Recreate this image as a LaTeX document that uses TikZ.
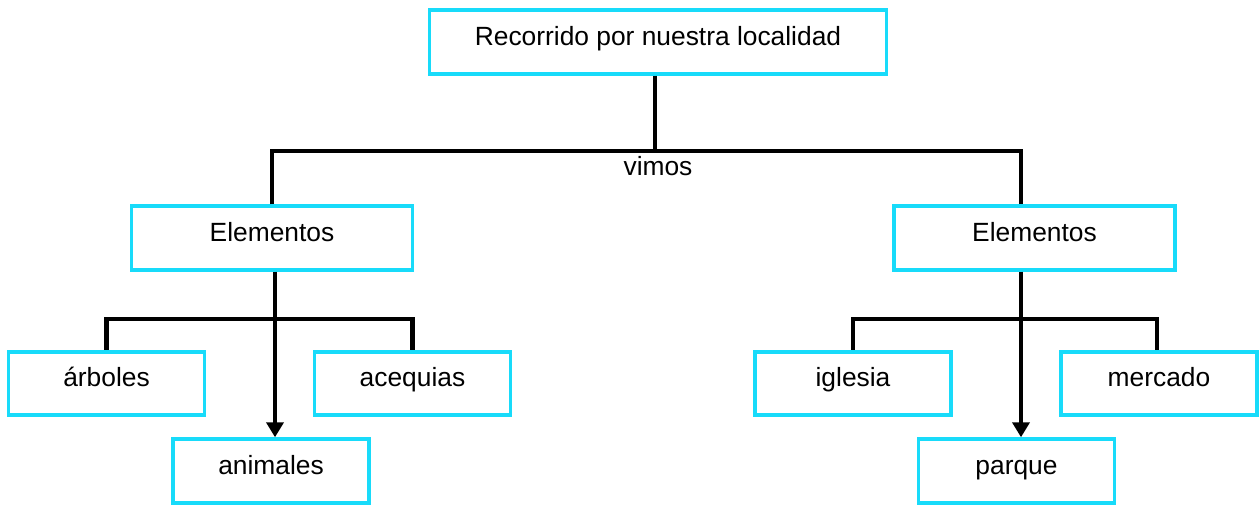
\documentclass[tikz,border=0pt]{standalone}
\usepackage{fontspec}
\setmainfont{Liberation Sans}
\usepackage{xcolor}
\definecolor{boxcyan}{RGB}{24,219,250}
\usetikzlibrary{arrows.meta}

\tikzset{
	cajon/.style={
		draw=boxcyan,         % cyan border
		line width=3pt*0.75,  % border thickness
		fill=white,
		text=black,
		rectangle,
		minimum height=1.27cm,
		text height=0.38cm,
		text depth=0.26cm,
		inner sep=0pt
	},
	rama/.style={draw=black, line width=2.3pt},
	flecha/.style={rama, -{Triangle[length=0.3cm,width=0.34cm]}}
}

\begin{document}
\begin{tikzpicture}[font=\fontsize{15}{18}\selectfont]
	\useasboundingbox (0,0) rectangle (25.2,-10.16);

	% title
	\node[cajon, minimum width=9.14cm] (top) at (13.16,-0.84) {Recorrido por nuestra localidad};

	% second level
	\node[cajon, minimum width=5.62cm] (elemL) at (5.44,-4.76) {Elementos};
	\node[cajon, minimum width=5.62cm] (elemR) at (20.69,-4.76) {Elementos};

	% leaves left
	\node[cajon, minimum width=3.92cm] (arboles) at (2.13,-7.67) {árboles};
	\node[cajon, minimum width=3.92cm] (acequias) at (8.25,-7.67) {acequias};
	\node[cajon, minimum width=3.92cm] (animales) at (5.42,-9.42) {animales};

	% leaves right
	\node[cajon, minimum width=3.92cm] (iglesia) at (17.06,-7.67) {iglesia};
	\node[cajon, minimum width=3.92cm] (mercado) at (23.18,-7.67) {mercado};
	\node[cajon, minimum width=3.92cm] (parque) at (20.33,-9.42) {parque};

	% joints
	\coordinate (barra) at (0,-3.02);
	\coordinate (barraL) at (0,-6.38);
	\coordinate (bajaR) at ([xshift=-0.27cm]elemR.north);

	\draw[rama] ([xshift=-0.06cm]top.south) -- ([xshift=-0.06cm]top.south |- barra);
	\draw[rama] (elemL.north) -- (elemL.north |- barra) -- (bajaR |- barra) -- (bajaR);
	\node (vimos) at (13.16,-3.32) {vimos};

	% left branch
	\draw[flecha] ([xshift=0.06cm]elemL.south) -- ([xshift=0.06cm]elemL.south |- animales.north);
	\draw[rama] (arboles.north) -- (arboles.north |- barraL) -- (acequias.north |- barraL) -- (acequias.north);

	% right branch
	\draw[flecha] (elemR.south -| bajaR) -- (bajaR |- parque.north);
	\draw[rama] (iglesia.north) -- (iglesia.north |- barraL) -- ([xshift=-0.04cm]mercado.north |- barraL) -- ([xshift=-0.04cm]mercado.north);
\end{tikzpicture}
\end{document}
